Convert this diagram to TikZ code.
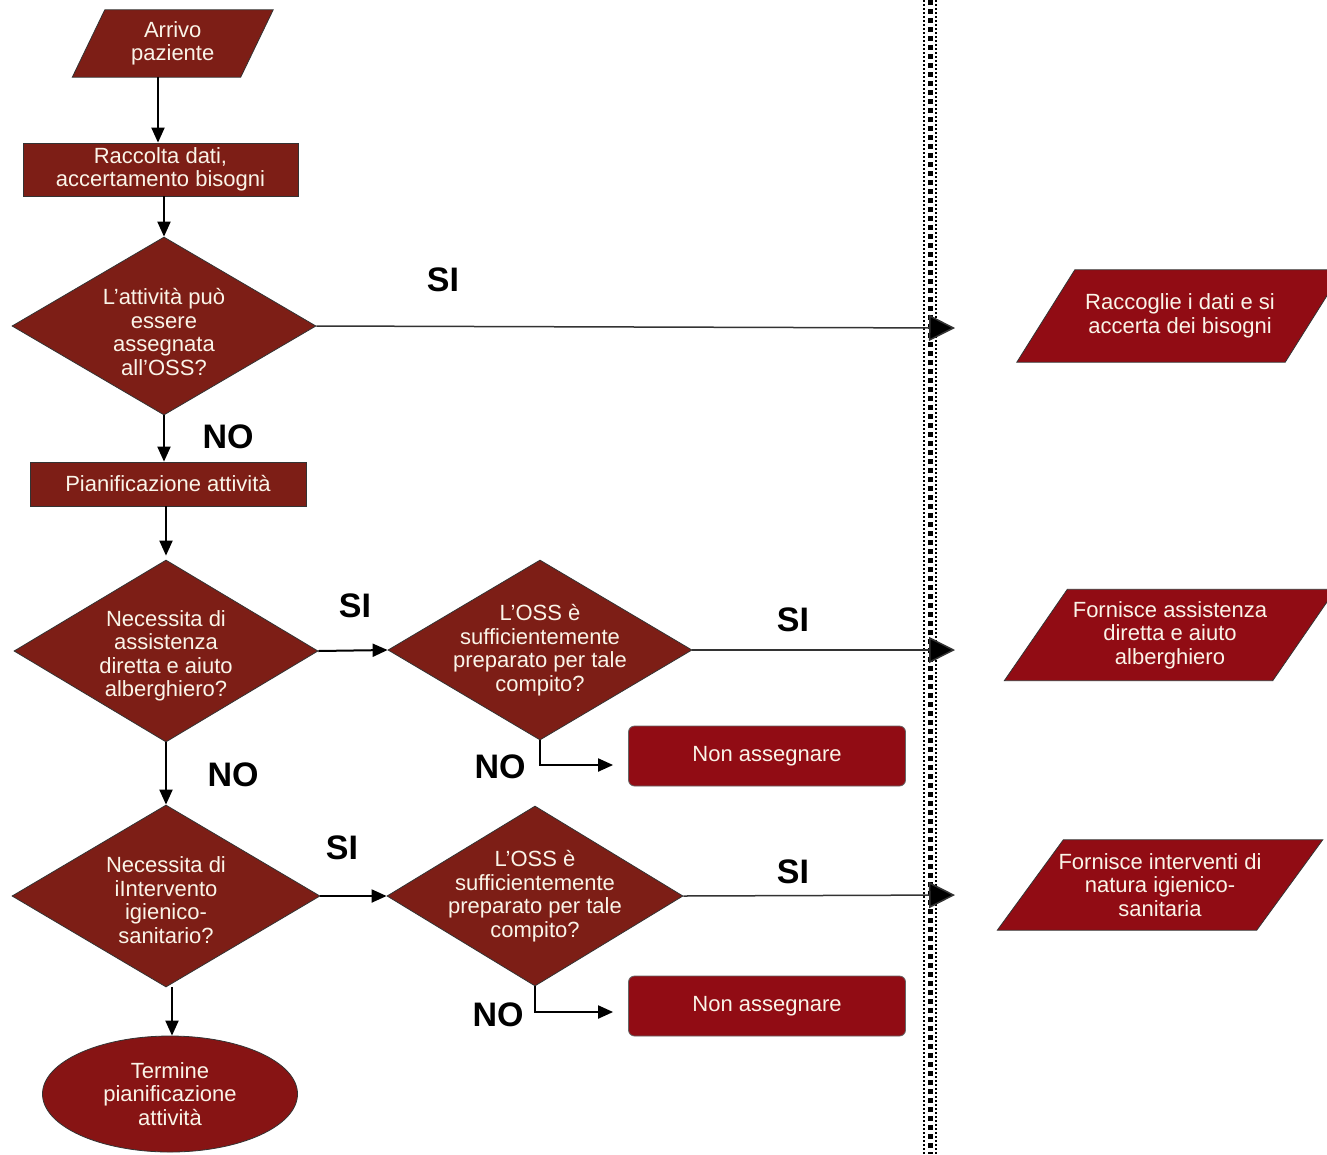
\documentclass[tikz,border=0pt]{standalone}
\usepackage{fontspec}
\setmainfont{Liberation Sans}
\usetikzlibrary{shapes.geometric,arrows.meta,backgrounds,calc}
\definecolor{maroon}{RGB}{125,30,22}
\definecolor{redbox}{RGB}{145,12,20}
\definecolor{ellcol}{RGB}{135,20,20}
\definecolor{txt}{RGB}{250,244,232}
\tikzset{
  lbl/.style={font=\fontsize{22}{23.5}\selectfont, text=txt, align=center, inner sep=0pt},
  dia/.style={diamond, inner sep=0pt, fill=maroon, draw=black!80, line width=0.8pt},
  boxn/.style={rectangle, lbl, fill=maroon, draw=black!80, line width=0.8pt},
  nabox/.style={rectangle, rounded corners=6pt, lbl, fill=redbox, draw=black!60, line width=0.8pt, minimum width=277pt, minimum height=60pt},
  conn/.style={line width=2pt, -{Triangle[length=15pt,width=13pt]}},
  bigconn/.style={line width=1.5pt, draw=black!80, -{Triangle[length=26pt,width=26pt,fill=black]}},
  yn/.style={font=\bfseries\fontsize{34}{34}\selectfont, inner sep=0pt},
}
% #1 name, #2 cx, #3 cy, #4 w, #5 h, #6 slant, #7 colour, #8 text
\newcommand\paranode[8]{%
  \node[lbl, minimum width=#4pt, minimum height=#5pt] (#1) at (#2,#3) {#8};
  \begin{scope}[on background layer]
    \filldraw[fill=#7, draw=black!80, line width=0.8pt]
      ($(#1.north west)+(#6/2,0)$) -- ($(#1.north east)+(#6/2,0)$) --
      ($(#1.south east)-(#6/2,0)$) -- ($(#1.south west)-(#6/2,0)$) -- cycle;
  \end{scope}}
% [#1 text offset down], #2 name, #3 cx, #4 cy, #5 w, #6 h, #7 text
\newcommand\dianode[7][0]{%
  \node[dia, minimum width=#5pt, minimum height=#6pt] (#2) at (#3,#4) {};
  \node[lbl] (#2t) at ($(#2.center)+(0,#1)$) {#7};}
\begin{document}
\begin{tikzpicture}[x=1pt,y=-1pt]
\useasboundingbox (0,0) rectangle (1327,1154);
\begin{scope}[on background layer]
  \fill[white] (0,0) rectangle (1327,1154);
\end{scope}

% dotted separator
\draw[line width=5pt, dash pattern=on 5pt off 4pt] (930,0) -- (930,1154);
\draw[line width=1.5pt, dash pattern=on 1.5pt off 2.5pt] (924,0) -- (924,1154);
\draw[line width=1.5pt, dash pattern=on 1.5pt off 2.5pt] (936,0) -- (936,1154);

% left column
\paranode{arr}{172.75}{43.5}{168}{67}{32.5}{maroon}{Arrivo\\paziente}
\node[boxn, minimum width=275pt, minimum height=53pt] (rac) at (160.5,169.5) {Raccolta dati,\\accertamento bisogni};
\dianode[6]{d1}{164}{326}{304}{178}{L’attività può\\essere\\assegnata\\all'OSS?}
\node[boxn, minimum width=276pt, minimum height=44pt] (pian) at (168,484) {Pianificazione attività};
\dianode[5]{d2}{166}{651}{304}{182}{Necessita di\\assistenza\\diretta e aiuto\\alberghiero?}
\dianode{d3}{540}{650}{304}{180}{L'OSS è\\sufficientemente\\preparato per tale\\compito?}
\node[nabox] (na1) at (767,756) {Non assegnare};
\dianode[4]{d4}{166}{896}{308}{182}{Necessita di\\iIntervento\\igienico-\\sanitario?}
\dianode{d5}{535}{896}{296}{180}{L'OSS è\\sufficientemente\\preparato per tale\\compito?}
\node[nabox] (na2) at (767,1006) {Non assegnare};
\node[ellipse, lbl, fill=ellcol, draw=black!80, line width=0.8pt, minimum width=255pt, minimum height=116pt] (ell) at (170,1094) {Termine\\pianificazione\\attività};

% right column
\paranode{p1}{1180}{316}{268}{92}{58}{redbox}{Raccoglie i dati e si\\accerta dei bisogni}
\paranode{p2}{1170}{635}{268}{91}{63}{redbox}{Fornisce assistenza\\diretta e aiuto\\alberghiero}
\paranode{p3}{1160}{885}{259}{90}{66}{redbox}{Fornisce interventi di\\natura igienico-\\sanitaria}

\coordinate (t1) at (955,328);
\coordinate (t2) at (955,650);
\coordinate (t3) at (955,895);

% connectors
\draw[conn] (arr.south -| 158,0) -- (rac.north -| 158,0);
\draw[conn] (rac.south -| d1.north) -- (d1.north);
\draw[conn] (d1.south) -- (d1.south |- pian.north);
\draw[conn] (d2.north |- pian.south) -- ([yshift=4pt]d2.north);
\draw[conn] (d2.south) -- (d4.north);
\draw[conn] (d4.south -| 172,0) -- (ell.north -| 172,0);
\draw[conn] (d2.east) -- (d3.west);
\draw[conn] (d4.east) -- (d5.west);
\draw[conn] (d3.south) |- ([xshift=-15pt,yshift=-9pt]na1.west);
\draw[conn] (d5.south) |- ([xshift=-15pt,yshift=-6pt]na2.west);
\draw[bigconn] (d1.east) -- (t1);
\draw[bigconn] (d3.east) -- (t2);
\draw[bigconn] (d5.east) -- (t3);

% labels
\node[yn] (l1) at (443,280) {SI};
\node[yn] (l2) at (228,437) {NO};
\node[yn] (l3) at (355,606) {SI};
\node[yn] (l4) at (793,620) {SI};
\node[yn] (l5) at (500,767) {NO};
\node[yn] (l6) at (233,775) {NO};
\node[yn] (l7) at (342,848) {SI};
\node[yn] (l8) at (793,872) {SI};
\node[yn] (l9) at (498,1015) {NO};
\end{tikzpicture}
\end{document}
